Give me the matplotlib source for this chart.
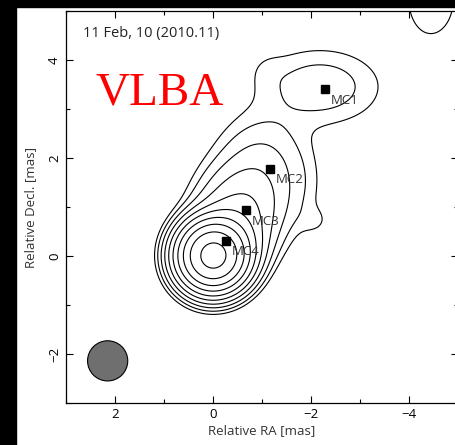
import numpy as np
import matplotlib.pyplot as plt
from matplotlib.patches import Circle, Rectangle
from matplotlib.ticker import MultipleLocator

plt.rcParams['font.family'] = ['Open Sans', 'DejaVu Sans']

# model components of the source (mas): x, y, peak, sigma_x, sigma_y
comp_x = [0.0, -0.30, -0.60, -1.00, -1.85, -2.10, -2.18, -1.10, -4.45]
comp_y = [0.0, 0.35, 1.00, 1.85, 1.30, 0.72, 3.45, 3.80, 5.25]
comp_amp = [1.0, 0.06, 0.02, 0.007, 0.0010, 0.0012, 0.0045, 0.0007, 0.0025]
comp_sx = [0.33, 0.40, 0.50, 0.55, 0.30, 0.22, 0.80, 0.25, 0.45]
comp_sy = [0.33, 0.40, 0.50, 0.60, 0.60, 0.20, 0.50, 0.25, 0.70]

# contour levels (fraction of peak)
levels = [0.0015, 0.003, 0.006, 0.012, 0.024, 0.048, 0.096, 0.19, 0.38, 0.77]

# model-fit component positions
mc_names = ['MC1', 'MC2', 'MC3', 'MC4']
mc_x = [-2.29, -1.16, -0.67, -0.27]
mc_y = [3.41, 1.78, 0.94, 0.31]

# restoring beam
beam_x, beam_y, beam_r = 2.15, -2.14, 0.41

x = np.linspace(3, -5, 500)
y = np.linspace(-3, 5, 500)
X, Y = np.meshgrid(x, y)
Z = np.zeros_like(X)
for cx, cy, a, sx, sy in zip(comp_x, comp_y, comp_amp, comp_sx, comp_sy):
    Z += a * np.exp(-((X - cx)**2 / (2 * sx**2) + (Y - cy)**2 / (2 * sy**2)))

fig = plt.figure(figsize=(4.56, 4.45), dpi=100)
fig.patches.append(Rectangle((0, 0), 16 / 456, 1, transform=fig.transFigure,
                             color='black', zorder=-1))
fig.patches.append(Rectangle((0, 1 - 7 / 445), 1, 7 / 445, transform=fig.transFigure,
                             color='black', zorder=-1))

ax = fig.add_axes([66 / 456, 42 / 445, 392 / 456, 392 / 445])
ax.contour(X, Y, Z, levels=levels, colors='black', linewidths=0.8)

ax.add_patch(Circle((beam_x, beam_y), beam_r, facecolor='#6f6f6f',
                    edgecolor='black', linewidth=0.8))

ax.plot(mc_x, mc_y, 's', color='black', markersize=6)
for name, mx, my in zip(mc_names, mc_x, mc_y):
    ax.annotate(name, (mx, my), xytext=(4, -8), textcoords='offset points',
                ha='left', va='center', fontsize=9.5, color='#333333')

ax.text(2.65, 4.55, '11 Feb, 10 (2010.11)', fontsize=10.5, color='#222222',
        ha='left', va='center')
ax.text(2.4, 3.32, 'VLBA', fontsize=34, color='red', family='Liberation Serif',
        ha='left', va='center')

ax.set_xlim(3, -5)
ax.set_ylim(-3, 5)
ax.xaxis.set_major_locator(MultipleLocator(2))
ax.xaxis.set_minor_locator(MultipleLocator(1))
ax.yaxis.set_major_locator(MultipleLocator(2))
ax.yaxis.set_minor_locator(MultipleLocator(1))
ax.tick_params(which='both', direction='in', top=True, right=True, labelsize=9.5)
ax.tick_params(which='major', length=5, width=0.8)
ax.tick_params(which='minor', length=3, width=0.8)
for lab in ax.get_yticklabels():
    lab.set_rotation(90)
    lab.set_va('center')
for s in ax.spines.values():
    s.set_linewidth(0.9)

ax.set_xlabel('Relative RA [mas]', fontsize=9.5, color='#333333', labelpad=2)
ax.set_ylabel('Relative Decl. [mas]', fontsize=9.5, color='#333333', labelpad=8)

fig.savefig('out.png', dpi=100)
